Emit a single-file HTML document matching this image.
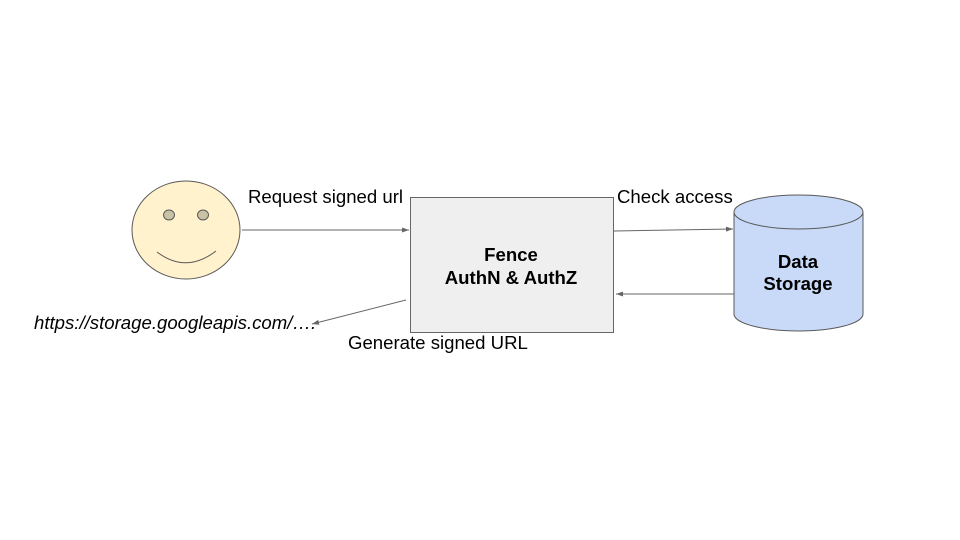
<!DOCTYPE html>
<html><head><style>
html,body{margin:0;padding:0;background:#fff;}
svg{display:block;}
text{font-family:"Liberation Sans",Arial,sans-serif;font-size:18.6px;fill:#000;}
</style></head><body>
<svg width="960" height="540" viewBox="0 0 960 540" xmlns="http://www.w3.org/2000/svg">
<defs>
<marker id="a" markerWidth="8" markerHeight="8" refX="7" refY="4" orient="auto" markerUnits="userSpaceOnUse">
<path d="M0,1.5 L7,4 L0,6.5 z" fill="#666"/>
</marker>
</defs>
<!-- face -->
<ellipse cx="186" cy="230" rx="54" ry="49" fill="#fff2cc" stroke="#595959" stroke-width="1"/>
<ellipse cx="169" cy="215" rx="5.5" ry="5" fill="#c9c2a5" stroke="#595959"/>
<ellipse cx="203" cy="215" rx="5.5" ry="5" fill="#c9c2a5" stroke="#595959"/>
<path d="M157,252 Q186,274 216,251" fill="none" stroke="#595959" stroke-width="1"/>
<!-- box -->
<rect x="410.5" y="197.5" width="203" height="135" fill="#efefef" stroke="#666"/>
<text x="511" y="261" text-anchor="middle" font-weight="bold">Fence</text>
<text x="511" y="284" text-anchor="middle" font-weight="bold">AuthN &amp; AuthZ</text>
<!-- cylinder -->
<path d="M734,212 L734,314 A64.5,17 0 0 0 863,314 L863,212" fill="#c9daf8" stroke="#595959"/>
<ellipse cx="798.5" cy="212" rx="64.5" ry="17" fill="#c9daf8" stroke="#595959"/>
<text x="798" y="268" text-anchor="middle" font-weight="bold">Data</text>
<text x="798" y="290" text-anchor="middle" font-weight="bold">Storage</text>
<!-- arrows -->
<line x1="242" y1="230" x2="409" y2="230" stroke="#666" marker-end="url(#a)"/>
<line x1="614" y1="231" x2="733" y2="229" stroke="#666" marker-end="url(#a)"/>
<line x1="734" y1="294" x2="616" y2="294" stroke="#666" marker-end="url(#a)"/>
<line x1="406" y1="300" x2="312" y2="324" stroke="#666" marker-end="url(#a)"/>
<!-- labels -->
<text x="248" y="203">Request signed url</text>
<text x="617" y="203">Check access</text>
<text x="348" y="349">Generate signed URL</text>
<text x="34" y="329" font-style="italic">https://storage.googleapis.com/….</text>
</svg>
</body></html>
